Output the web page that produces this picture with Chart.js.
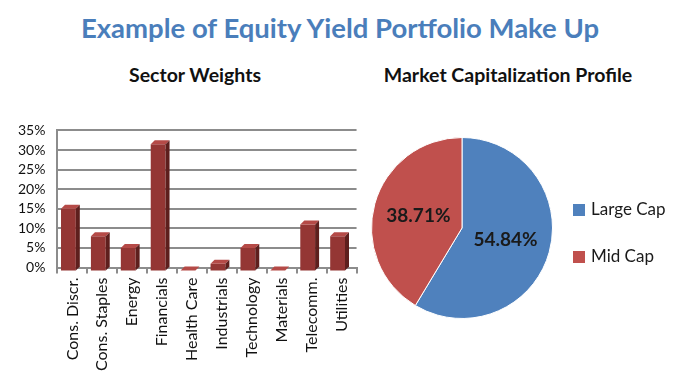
<!DOCTYPE html>
<html>
<head>
<meta charset="utf-8">
<script src="https://cdn.jsdelivr.net/npm/chart.js@4"></script>
<style>
  body { margin: 0; background: #fff; width: 677px; height: 375px; overflow: hidden; position: relative; font-family: Lato, "Open Sans", sans-serif; }
  .t { position: absolute; white-space: nowrap; transform: translateX(-50%); font-weight: bold; }
  #title { left: 340px; top: 11px; font-size: 27.5px; color: #4a7ebb; }
  #sub1 { left: 195px; top: 63px; font-size: 19.5px; color: #111; }
  #sub2 { left: 508px; top: 63px; font-size: 19.5px; color: #111; }
  #barWrap { position: absolute; left: 0; top: 110px; width: 365px; height: 265px; }
  #pieWrap { position: absolute; left: 360px; top: 137px; width: 317px; height: 182px; }
</style>
</head>
<body>
<div class="t" id="title">Example of Equity Yield Portfolio Make Up</div>
<div class="t" id="sub1">Sector Weights</div>
<div class="t" id="sub2">Market Capitalization Profile</div>
<div id="barWrap"><canvas id="barChart"></canvas></div>
<div id="pieWrap"><canvas id="pieChart"></canvas></div>
<script>
var sectors = ['Cons. Discr.', 'Cons. Staples', 'Energy', 'Financials', 'Health Care', 'Industrials', 'Technology', 'Materials', 'Telecomm.', 'Utilities'];
var sectorWeights = [16, 9, 6, 32.5, 0, 2, 6, 0, 12, 9];
var yTicks = [0, 5, 10, 15, 20, 25, 30, 35];

var capLabels = ['Large Cap', 'Mid Cap'];
var capValues = [54.84, 38.71];
var capColors = ['#4f81bd', '#c0504d'];

var DEPTH = 4;

// fake 3d: shift the front faces down-left, then draw top and side faces
var bar3d = {
  id: 'bar3d',
  beforeDatasetsDraw: function (chart) {
    chart.ctx.save();
    chart.ctx.translate(-DEPTH, DEPTH);
  },
  afterDatasetsDraw: function (chart) {
    var ctx = chart.ctx;
    chart.getDatasetMeta(0).data.forEach(function (bar) {
      var p = bar.getProps(['x', 'y', 'base', 'width'], true);
      var l = p.x - p.width / 2, r = p.x + p.width / 2;
      ctx.fillStyle = '#b54a47';
      ctx.beginPath();
      ctx.moveTo(l, p.y);
      ctx.lineTo(l + DEPTH, p.y - DEPTH);
      ctx.lineTo(r + DEPTH, p.y - DEPTH);
      ctx.lineTo(r, p.y);
      ctx.closePath();
      ctx.fill();
      ctx.fillStyle = '#5e1f1d';
      ctx.beginPath();
      ctx.moveTo(r, p.y);
      ctx.lineTo(r + DEPTH, p.y - DEPTH);
      ctx.lineTo(r + DEPTH, p.base - DEPTH);
      ctx.lineTo(r, p.base);
      ctx.closePath();
      ctx.fill();
    });
    ctx.restore();
  }
};

new Chart(document.getElementById('barChart'), {
  type: 'bar',
  data: {
    labels: sectors,
    datasets: [{
      data: sectorWeights,
      backgroundColor: '#943634',
      minBarLength: 1,
      barPercentage: 0.55,
      categoryPercentage: 0.9
    }]
  },
  options: {
    responsive: true,
    maintainAspectRatio: false,
    animation: false,
    layout: { padding: { top: 10, right: 4, left: 6, bottom: 0 } },
    plugins: { legend: { display: false }, tooltip: { enabled: false } },
    scales: {
      y: {
        min: 0,
        max: 35,
        afterBuildTicks: function (axis) {
          axis.ticks = yTicks.map(function (v) { return { value: v }; });
        },
        ticks: {
          autoSkip: false,
          callback: function (v) { return v + '%'; },
          color: '#111',
          font: { family: 'Lato', size: 14 },
          padding: 12
        },
        grid: { color: '#8c8c8c', lineWidth: 2, tickLength: 0 },
        border: { display: true, color: '#8c8c8c', width: 2 }
      },
      x: {
        ticks: {
          minRotation: 90,
          maxRotation: 90,
          autoSkip: false,
          color: '#111',
          font: { family: 'Lato', size: 16 },
          padding: 4
        },
        grid: { drawOnChartArea: false, color: '#8c8c8c', lineWidth: 2, tickLength: 6, offset: true },
        border: { display: true, color: '#8c8c8c', width: 2 }
      }
    }
  },
  plugins: [bar3d]
});

var pieLabels = {
  id: 'pieLabels',
  afterDatasetsDraw: function (chart) {
    var ctx = chart.ctx;
    ctx.save();
    ctx.font = 'bold 19px Lato';
    ctx.fillStyle = '#1a1a1a';
    ctx.textAlign = 'center';
    ctx.textBaseline = 'middle';
    chart.getDatasetMeta(0).data.forEach(function (arc, i) {
      var p = arc.getProps(['x', 'y', 'startAngle', 'endAngle', 'outerRadius'], true);
      var mid = (p.startAngle + p.endAngle) / 2;
      var r = p.outerRadius * 0.5;
      ctx.fillText(capValues[i].toFixed(2) + '%', p.x + Math.cos(mid) * r, p.y + Math.sin(mid) * r);
    });
    ctx.restore();
  }
};

// legend beside the pie, spaced like the original
var pieLegend = {
  id: 'pieLegend',
  afterDraw: function (chart) {
    var ctx = chart.ctx;
    var area = chart.chartArea;
    var cy = (area.top + area.bottom) / 2;
    var x = area.right + 9;
    ctx.save();
    ctx.font = '17px Lato';
    ctx.textBaseline = 'middle';
    ctx.textAlign = 'left';
    capLabels.forEach(function (label, i) {
      var y = cy - 18 + i * 47;
      ctx.fillStyle = capColors[i];
      ctx.fillRect(x, y - 6, 12, 12);
      ctx.fillStyle = '#1a1a1a';
      ctx.fillText(label, x + 18, y);
    });
    ctx.restore();
  }
};

new Chart(document.getElementById('pieChart'), {
  type: 'pie',
  data: {
    labels: capLabels,
    datasets: [{
      data: capValues,
      backgroundColor: capColors,
      borderColor: '#ffffff',
      borderWidth: 1
    }]
  },
  options: {
    responsive: true,
    maintainAspectRatio: false,
    animation: false,
    layout: { padding: { right: 113 } },
    plugins: {
      tooltip: { enabled: false },
      legend: { display: false }
    }
  },
  plugins: [pieLabels, pieLegend]
});
</script>
</body>
</html>
